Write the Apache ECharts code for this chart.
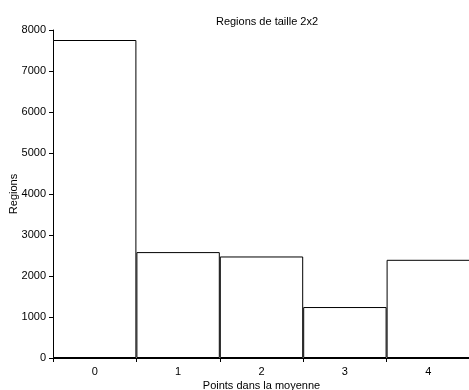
<!DOCTYPE html>
<html><head><meta charset="utf-8">
<script src="https://cdn.jsdelivr.net/npm/echarts@6/dist/echarts.min.js"></script>
<style>html,body{margin:0;padding:0;background:#fff}#c{width:469px;height:390px}</style>
</head><body><div id="c"></div>
<script>
var categories = ['0', '1', '2', '3', '4'];
var values = [7756, 2583, 2476, 1243, 2395];
var yTicks = [0, 1000, 2000, 3000, 4000, 5000, 6000, 7000, 8000];
var titleText = 'Regions de taille 2x2';
var xName = 'Points dans la moyenne';
var yName = 'Regions';

var chart = echarts.init(document.getElementById('c'), null, {renderer: 'canvas'});
var font = 'Liberation Sans, Arial, sans-serif';
chart.setOption({
  animation: false,
  backgroundColor: '#fff',
  title: {text: titleText, left: 262, top: 11, textAlign: 'center',
    textStyle: {fontFamily: font, fontSize: 11, fontWeight: 'normal', color: '#000'}},
  grid: {left: 53, right: -1, top: 30, bottom: 32, containLabel: false, outerBoundsMode: 'none'},
  xAxis: {type: 'category', data: categories, name: xName, nameLocation: 'middle', nameGap: 22,
    nameMoveOverlap: false,
    nameTextStyle: {fontFamily: font, fontSize: 11, color: '#000'},
    axisLine: {lineStyle: {color: '#000', width: 1}},
    axisTick: {show: true, length: 4, alignWithLabel: false, lineStyle: {color: '#000'}},
    axisLabel: {fontFamily: font, fontSize: 11, color: '#000', margin: 8},
    splitLine: {show: false}},
  yAxis: {type: 'value', min: yTicks[0], max: yTicks[yTicks.length - 1], interval: 1000,
    name: yName, nameLocation: 'middle', nameGap: 34, nameMoveOverlap: false,
    nameTextStyle: {fontFamily: font, fontSize: 11, color: '#000'},
    axisLine: {show: true, lineStyle: {color: '#000', width: 1}},
    axisTick: {show: true, length: 4, lineStyle: {color: '#000'}},
    axisLabel: {fontFamily: font, fontSize: 11, color: '#000', margin: 7,
      formatter: function (v) { return String(v); }},
    splitLine: {show: false}},
  series: [{type: 'bar', data: values, barWidth: '100%', barGap: '0%',
    itemStyle: {color: '#fff', borderColor: '#000', borderWidth: 1},
    emphasis: {disabled: true}}]
});
</script></body></html>
